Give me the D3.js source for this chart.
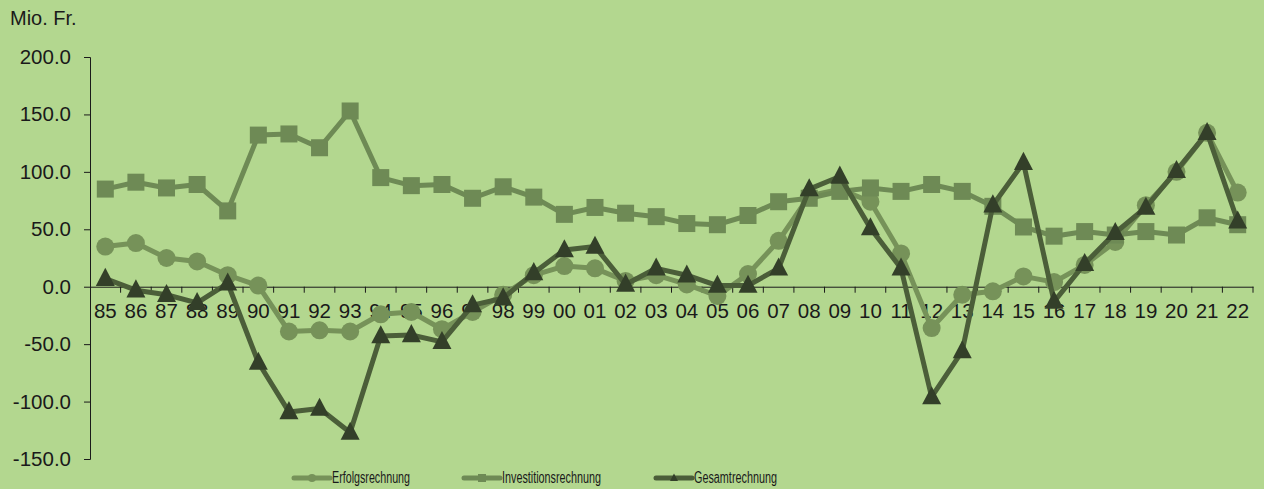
<!DOCTYPE html>
<html>
<head>
<meta charset="utf-8">
<script src="https://cdn.jsdelivr.net/npm/d3@7"></script>
<style>
	body { margin: 0; background: #b3d78f; }
	text { font-family: "Liberation Sans", Arial, sans-serif; fill: #1a1a1a; }
</style>
</head>
<body>
<div id="chart"></div>
<script>
// data
var years = ['85','86','87','88','89','90','91','92','93','94','95','96','97','98','99','00','01','02','03','04','05','06','07','08','09','10','11','12','13','14','15','16','17','18','19','20','21','22'];

var erfolg = [35, 38, 25, 22, 10, 1, -39, -38, -39, -24, -22, -37, -22, -7, 10, 18, 16, 5, 10, 2, -8, 11, 40, 79, 85, 74, 29, -36, -7, -4, 9, 4, 19, 39, 71, 100, 134, 82];
var invest = [85, 91, 86, 89, 66, 132, 133, 121, 153, 95, 88, 89, 77, 87, 78, 63, 69, 64, 61, 55, 54, 62, 74, 77, 83, 86, 83, 89, 83, 70, 52, 44, 48, 45, 48, 45, 60, 54];
var gesamt = [7, -3, -7, -14, 3, -66, -109, -106, -127, -43, -42, -48, -16, -10, 12, 32, 35, 2, 16, 10, 1, 1, 16, 85, 96, 51, 16, -96, -56, 71, 108, -13, 20, 47, 69, 101, 134, 57];

var yTicks = [-150, -100, -50, 0, 50, 100, 150, 200];

var series = [
	{ name: 'Erfolgsrechnung', values: erfolg, line: '#769259', marker: '#769259', shape: 'circle', textW: 78 },
	{ name: 'Investitionsrechnung', values: invest, line: '#6e8a55', marker: '#6e8a55', shape: 'square', textW: 99 },
	{ name: 'Gesamtrechnung', values: gesamt, line: '#4b5e39', marker: '#333f29', shape: 'triangle', textW: 83 }
];

// build canvas
var width = 1264,
	height = 489;

var svg = d3.select('#chart')
			.append('svg')
			.attr('width', width)
			.attr('height', height);

svg.append('rect').attr('width', width).attr('height', height).attr('fill', '#b3d78f');

var x = d3.scaleBand().domain(years).range([90, 1253]);
var y = d3.scaleLinear().domain([-150, 200]).range([459, 57]);

// unit label
svg.append('text')
	.attr('x', 10)
	.attr('y', 25)
	.style('font-size', '20px')
	.text('Mio. Fr.');

// y axis
var yAxis = svg.append('g')
	.attr('transform', 'translate(90,0)')
	.call(d3.axisLeft(y).tickValues(yTicks).tickSize(6).tickPadding(13).tickFormat(d => d.toFixed(1)));
yAxis.selectAll('path, line').attr('stroke', '#1a1a1a');
yAxis.selectAll('text').style('font-size', '20.5px').attr('fill', '#1a1a1a').attr('font-family', null);

// x axis on zero line
var xAxis = svg.append('g')
	.attr('transform', 'translate(0,' + y(0) + ')')
	.call(d3.axisBottom(x).tickSize(0).tickPadding(17));
xAxis.select('path').attr('stroke', '#1a1a1a');
xAxis.selectAll('text').style('font-size', '20.5px').attr('fill', '#1a1a1a').attr('font-family', null);

// ticks between categories
xAxis.selectAll('line.sep')
	.data(years).enter()
	.append('line')
	.attr('class', 'sep')
	.attr('x1', d => x(d) + x.bandwidth())
	.attr('x2', d => x(d) + x.bandwidth())
	.attr('y1', 0)
	.attr('y2', 6)
	.attr('stroke', '#1a1a1a');

var cx = (d, i) => x(years[i]) + x.bandwidth() / 2;

var line = d3.line()
	.x((d, i) => cx(d, i))
	.y(d => y(d));

function drawMarker(sel, shape, size) {
	if (shape === 'circle') {
		sel.append('circle').attr('r', size / 2);
	} else if (shape === 'square') {
		sel.append('rect').attr('x', -size / 2).attr('y', -size / 2).attr('width', size).attr('height', size);
	} else {
		var h = size * 0.95;
		sel.append('path').attr('d', 'M0,' + (-h * 0.6) + 'L' + (size / 2) + ',' + (h * 0.4) + 'L' + (-size / 2) + ',' + (h * 0.4) + 'Z');
	}
}

var layers = svg.append('g');

series.forEach(function(s) {
	var g = layers.append('g');
	g.append('path')
		.datum(s.values)
		.attr('fill', 'none')
		.attr('stroke', s.line)
		.attr('stroke-width', 5)
		.attr('stroke-linejoin', 'round')
		.attr('d', line);

	g.selectAll('g.pt')
		.data(s.values).enter()
		.append('g')
		.attr('class', 'pt')
		.attr('fill', s.marker)
		.attr('transform', (d, i) => 'translate(' + cx(d, i) + ',' + y(d) + ')')
		.each(function() { drawMarker(d3.select(this), s.shape, s.shape === 'circle' ? 18 : s.shape === 'square' ? 17 : 19); });
});

// legend
var legendX = [294, 464, 656];
var legend = svg.append('g');
series.forEach(function(s, i) {
	var g = legend.append('g').attr('transform', 'translate(' + legendX[i] + ',478)');
	g.append('line')
		.attr('x1', 0).attr('x2', 36)
		.attr('stroke', s.line)
		.attr('stroke-width', 5)
		.attr('stroke-linecap', 'round');
	var m = g.append('g').attr('transform', 'translate(18,0)').attr('fill', s.marker);
	drawMarker(m, s.shape, 8);
	g.append('text')
		.attr('x', 38)
		.attr('y', 0)
		.attr('dy', '0.3em')
		.style('font-size', '16px')
		.attr('textLength', s.textW)
		.attr('lengthAdjust', 'spacingAndGlyphs')
		.text(s.name);
});
</script>
</body>
</html>
